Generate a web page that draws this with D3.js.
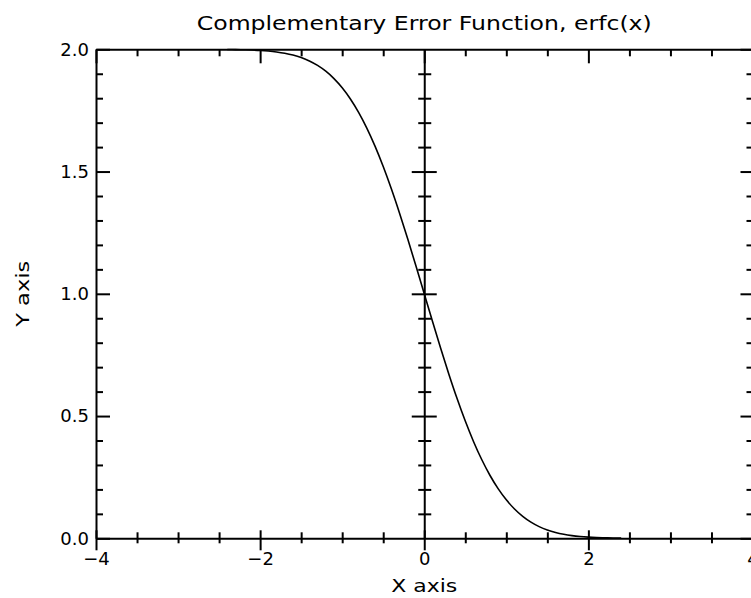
<!DOCTYPE html>
<html>
<head>
<meta charset="utf-8">
<script src="https://cdn.jsdelivr.net/npm/d3@7/dist/d3.min.js"></script>
<style>
  html, body { margin: 0; padding: 0; background: #fff; }
  svg { display: block; }
  text { font-family: "DejaVu Sans", sans-serif; fill: #000; }
</style>
</head>
<body>
<svg id="chart" width="751" height="598"></svg>
<script>
// ---- data ----
const xValues = [-2.4, -2.3, -2.2, -2.1, -2.0, -1.9, -1.8, -1.7, -1.6, -1.5, -1.4, -1.3, -1.2, -1.1, -1.0,
  -0.9, -0.8, -0.7, -0.6, -0.5, -0.4, -0.3, -0.2, -0.1, 0.0, 0.1, 0.2, 0.3, 0.4, 0.5, 0.6, 0.7, 0.8, 0.9,
  1.0, 1.1, 1.2, 1.3, 1.4, 1.5, 1.6, 1.7, 1.8, 1.9, 2.0, 2.1, 2.2, 2.3, 2.4];
const yValues = [1.99931, 1.99886, 1.99814, 1.99702, 1.99532, 1.99279, 1.98909, 1.98379, 1.97635, 1.96611,
  1.95229, 1.93401, 1.91031, 1.88021, 1.84270, 1.79691, 1.74210, 1.67780, 1.60386, 1.52050, 1.42839,
  1.32863, 1.22270, 1.11246, 1.00000, 0.88754, 0.77730, 0.67137, 0.57161, 0.47950, 0.39614, 0.32220,
  0.25790, 0.20309, 0.15730, 0.11979, 0.08969, 0.06599, 0.04771, 0.03389, 0.02365, 0.01621, 0.01091,
  0.00721, 0.00468, 0.00298, 0.00186, 0.00114, 0.00069];
const xMajorTicks = [-4, -2, 0, 2, 4];
const xMinorTicks = [-3.5, -3, -2.5, -1.5, -1, -0.5, 0.5, 1, 1.5, 2.5, 3, 3.5];
const yMajorTicks = [0.0, 0.5, 1.0, 1.5, 2.0];
const yMinorTicks = [0.1, 0.2, 0.3, 0.4, 0.6, 0.7, 0.8, 0.9, 1.1, 1.2, 1.3, 1.4, 1.6, 1.7, 1.8, 1.9];
const titleText = "Complementary Error Function, erfc(x)";
const xTitle = "X axis";
const yTitle = "Y axis";

// ---- layout ----
const svg = d3.select("#chart");
const pLeft = 96, pRight = 752.5, pTop = 49.3, pBottom = 538.3;
const x = d3.scaleLinear().domain([-4, 4]).range([pLeft, pRight]);
const y = d3.scaleLinear().domain([0, 2]).range([pBottom, pTop]);
const fmtX = d3.format("d");
const fmtY = d3.format(".1f");

function styleAxis(g) {
  g.selectAll("path.domain").attr("stroke", "#000").attr("stroke-width", 2);
  g.selectAll(".tick line").attr("stroke", "#000").attr("stroke-width", 2);
  g.selectAll("text").attr("font-family", "DejaVu Sans, sans-serif").attr("fill", "#000");
}

// top axis (ticks pointing down)
svg.append("g").attr("transform", `translate(0,${pTop})`)
  .call(d3.axisBottom(x).tickValues(xMajorTicks).tickSizeInner(14).tickSizeOuter(0).tickFormat(""))
  .call(styleAxis);
svg.append("g").attr("transform", `translate(0,${pTop})`)
  .call(d3.axisBottom(x).tickValues(xMinorTicks).tickSizeInner(7).tickSizeOuter(0).tickFormat(""))
  .call(styleAxis).call(g => g.select(".domain").remove());

// right axis (ticks pointing left)
svg.append("g").attr("transform", `translate(${pRight},0)`)
  .call(d3.axisLeft(y).tickValues(yMajorTicks).tickSizeInner(12).tickSizeOuter(0).tickFormat(""))
  .call(styleAxis);
svg.append("g").attr("transform", `translate(${pRight},0)`)
  .call(d3.axisLeft(y).tickValues(yMinorTicks).tickSizeInner(6).tickSizeOuter(0).tickFormat(""))
  .call(styleAxis).call(g => g.select(".domain").remove());

// left axis (ticks pointing right, labels left)
svg.append("g").attr("transform", `translate(${pLeft},0)`)
  .call(d3.axisLeft(y).tickValues(yMajorTicks).tickSizeInner(-14).tickSizeOuter(0).tickPadding(7).tickFormat(fmtY))
  .call(styleAxis)
  .call(g => g.selectAll("text").attr("font-size", 18));
svg.append("g").attr("transform", `translate(${pLeft},0)`)
  .call(d3.axisLeft(y).tickValues(yMinorTicks).tickSizeInner(-7).tickSizeOuter(0).tickFormat(""))
  .call(styleAxis).call(g => g.select(".domain").remove());

// centre vertical axis at x = 0 (ticks on both sides)
svg.append("g").attr("transform", `translate(${x(0)},0)`)
  .call(d3.axisLeft(y).tickValues([0.5, 1.0, 1.5]).tickSizeInner(12.5).tickSizeOuter(0).tickFormat(""))
  .call(styleAxis)
  .call(g => g.selectAll(".tick line").attr("x1", 12.5));
svg.append("g").attr("transform", `translate(${x(0)},0)`)
  .call(d3.axisLeft(y).tickValues(yMinorTicks).tickSizeInner(6).tickSizeOuter(0).tickFormat(""))
  .call(styleAxis)
  .call(g => g.select(".domain").remove())
  .call(g => g.selectAll(".tick line").attr("x1", 7));

// bottom axis (ticks on both sides, labels below)
svg.append("g").attr("transform", `translate(0,${pBottom})`)
  .call(d3.axisBottom(x).tickValues(xMajorTicks).tickSizeInner(12).tickSizeOuter(0).tickPadding(2).tickFormat(fmtX))
  .call(styleAxis)
  .call(g => g.selectAll(".tick line").attr("y1", -8))
  .call(g => g.selectAll("text").attr("font-size", 18));
svg.append("g").attr("transform", `translate(0,${pBottom})`)
  .call(d3.axisBottom(x).tickValues(xMinorTicks).tickSizeInner(5).tickSizeOuter(0).tickFormat(""))
  .call(styleAxis)
  .call(g => g.select(".domain").remove())
  .call(g => g.selectAll(".tick line").attr("y1", -6));

// curve
const pts = xValues.map((v, i) => [v, yValues[i]]);
svg.append("path")
  .datum(pts)
  .attr("fill", "none")
  .attr("stroke", "#000")
  .attr("stroke-width", 1.6)
  .attr("d", d3.line().x(d => x(d[0])).y(d => y(d[1])).curve(d3.curveMonotoneX));

// titles
svg.append("text")
  .attr("x", (pLeft + pRight) / 2).attr("y", 30)
  .attr("text-anchor", "middle").attr("font-size", 19)
  .attr("textLength", 455).attr("lengthAdjust", "spacingAndGlyphs")
  .text(titleText);
svg.append("text")
  .attr("x", x(0)).attr("y", 592)
  .attr("text-anchor", "middle").attr("font-size", 18)
  .attr("textLength", 66).attr("lengthAdjust", "spacingAndGlyphs")
  .text(xTitle);
svg.append("text")
  .attr("transform", `translate(29,${y(1)}) rotate(-90)`)
  .attr("text-anchor", "middle").attr("font-size", 18)
  .attr("textLength", 66).attr("lengthAdjust", "spacingAndGlyphs")
  .text(yTitle);
</script>
</body>
</html>
